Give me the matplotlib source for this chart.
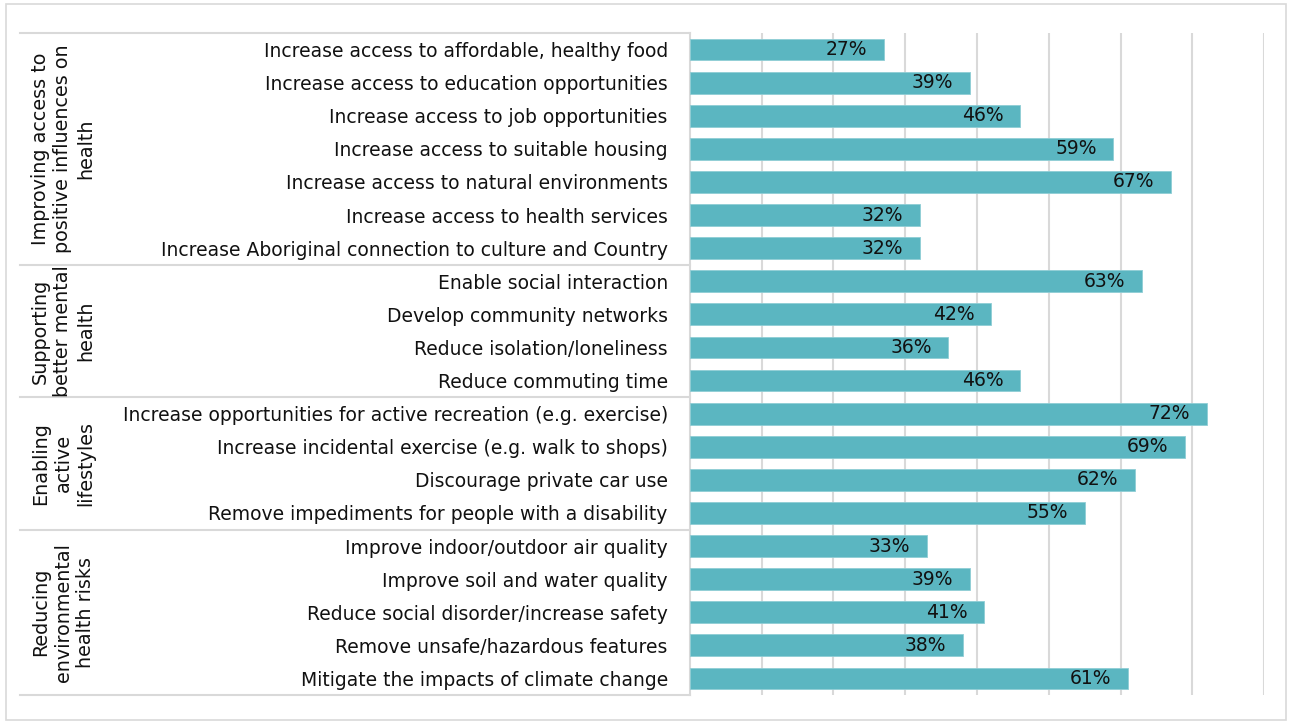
import matplotlib
matplotlib.use("Agg")
import matplotlib.pyplot as plt
import matplotlib.transforms as mtransforms
from matplotlib.patches import Rectangle

# data
labels = [
    "Increase access to affordable, healthy food",
    "Increase access to education opportunities",
    "Increase access to job opportunities",
    "Increase access to suitable housing",
    "Increase access to natural environments",
    "Increase access to health services",
    "Increase Aboriginal connection to culture and Country",
    "Enable social interaction",
    "Develop community networks",
    "Reduce isolation/loneliness",
    "Reduce commuting time",
    "Increase opportunities for active recreation (e.g. exercise)",
    "Increase incidental exercise (e.g. walk to shops)",
    "Discourage private car use",
    "Remove impediments for people with a disability",
    "Improve indoor/outdoor air quality",
    "Improve soil and water quality",
    "Reduce social disorder/increase safety",
    "Remove unsafe/hazardous features",
    "Mitigate the impacts of climate change",
]
values = [27, 39, 46, 59, 67, 32, 32, 63, 42, 36, 46, 72, 69, 62, 55, 33, 39, 41, 38, 61]
groups = [
    "Improving access to\npositive influences on\nhealth",
    "Supporting\nbetter mental\nhealth",
    "Enabling\nactive\nlifestyles",
    "Reducing\nenvironmental\nhealth risks",
]
group_sizes = [7, 4, 4, 5]

W, H = 1292, 722
fig = plt.figure(figsize=(W / 100, H / 100), dpi=100)
plt.rcParams['font.family'] = ['DejaVu Sans']

# light frame round the whole figure
fig.patches.append(Rectangle((6 / W, 2 / H), 1280 / W, 716 / H, transform=fig.transFigure,
                             fill=False, edgecolor="#D9D9D9", lw=1.2))

ax = fig.add_axes([690 / W, 1 - 695 / H, 574 / W, 662 / H])
y = list(range(len(labels)))
ax.barh(y, values, height=0.66, color="#5BB6C1", edgecolor="#8FCDD5", lw=0.6, zorder=3)
ax.set_xlim(0, 80)
ax.set_ylim(len(labels) - 0.5, -0.5)

ax.set_xticks(range(10, 81, 10))
ax.xaxis.grid(True, color="#D9D9D9", lw=1.5)
ax.tick_params(axis="x", length=0, labelbottom=False)
ax.set_yticks(y)
ax.set_yticklabels(labels, fontsize=13.5, color="#111111")
ax.tick_params(axis="y", length=0, pad=16)
for s in ["top", "right", "bottom"]:
    ax.spines[s].set_visible(False)
ax.spines["left"].set_color("#D9D9D9")
ax.spines["left"].set_linewidth(1.5)

for yi, v in zip(y, values):
    ax.annotate(f"{v}%", (v, yi), xytext=(-12, 0), textcoords="offset points",
                ha="right", va="center", fontsize=13.5, color="#111111", zorder=4)

# group separators and group labels
trans = mtransforms.blended_transform_factory(fig.transFigure, ax.transData)
start = 0
bounds = [-0.5]
for g, n in zip(groups, group_sizes):
    end = start + n
    bounds.append(end - 0.5)
    mid = (start + end - 1) / 2
    ax.text(63 / W, mid, g, transform=trans, rotation=90, ha="center", va="center",
            multialignment="center", fontsize=13.8, linespacing=1.25, color="#111111")
    start = end
for b in bounds:
    ax.plot([20 / W, 690 / W], [b, b], transform=trans, color="#D9D9D9", lw=1.5,
            clip_on=False)

fig.savefig("out.png", dpi=100)
